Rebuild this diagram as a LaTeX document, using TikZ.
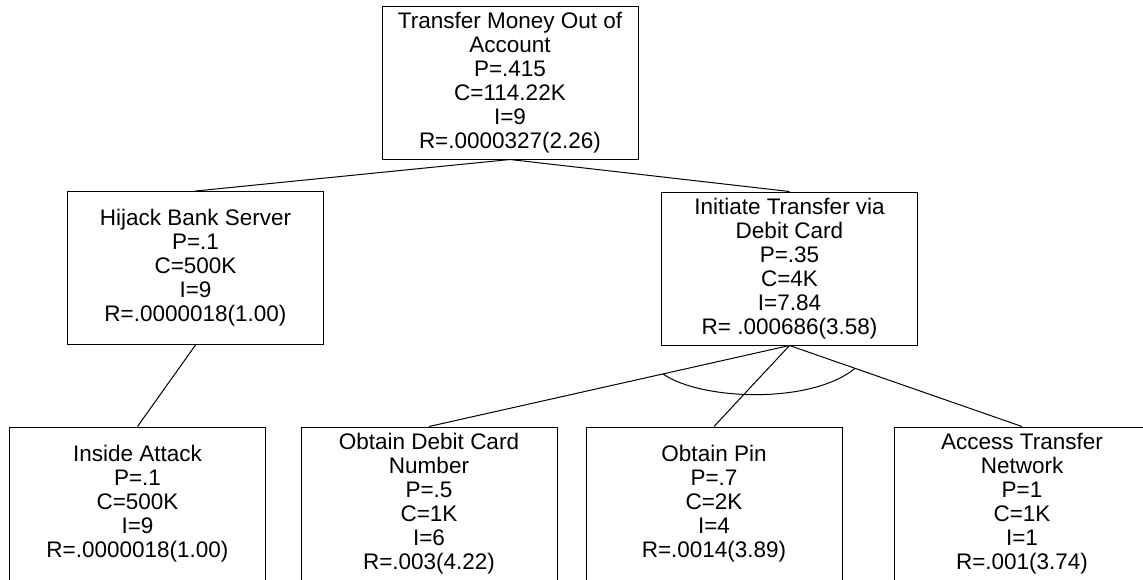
\documentclass[tikz,border=0pt]{standalone}
\usepackage{fontspec}
\setmainfont{Liberation Sans}
\usetikzlibrary{calc}
\begin{document}
\begin{tikzpicture}[x=0.5pt,y=-0.5pt,
  tbox/.style={draw=black, line width=0.5pt, rectangle, inner sep=0pt,
    minimum width=128pt, minimum height=76.5pt, align=center,
    font=\fontsize{11.25pt}{12pt}\selectfont},
  link/.style={draw=black, line width=0.5pt}]
\useasboundingbox (0,0) rectangle (1143,579);
\clip (0,0) rectangle (1143,579);
\node[tbox] (top) at (510,82.5) {Transfer Money Out of\\Account\\P=.415\\C=114.22K\\I=9\\R=.0000327(2.26)};
\node[tbox] (hij) at (195.5,268) {Hijack Bank Server\\P=.1\\C=500K\\I=9\\R=.0000018(1.00)};
\node[tbox] (ini) at (789.5,268.5) {Initiate Transfer via\\Debit Card\\P=.35\\C=4K\\I=7.84\\R= .000686(3.58)};
\node[tbox] (ins) at (137.5,503.5) {Inside Attack\\P=.1\\C=500K\\I=9\\R=.0000018(1.00)};
\node[tbox] (odc) at (429,503.5) {Obtain Debit Card\\Number\\P=.5\\C=1K\\I=6\\R=.003(4.22)};
\node[tbox] (pin) at (714,503.5) {Obtain Pin\\P=.7\\C=2K\\I=4\\R=.0014(3.89)};
\node[tbox] (acc) at (1022,503.5) {Access Transfer\\Network\\P=1\\C=1K\\I=1\\R=.001(3.74)};
\draw[link] (top.south) -- (hij.north);
\draw[link] (top.south) -- (ini.north);
\draw[link] (hij.south) -- (ins.north);
\draw[link] (ini.south) -- (odc.north);
\draw[link] (ini.south) -- (pin.north);
\draw[link] (ini.south) -- (acc.north);
\coordinate (arcL) at ($(ini.south)!0.351!(odc.north)$);
\coordinate (arcR) at ($(ini.south)!0.282!(acc.north)$);
\draw[link] (arcL) .. controls (700,400) and (810,405) .. (arcR);
\end{tikzpicture}
\end{document}
